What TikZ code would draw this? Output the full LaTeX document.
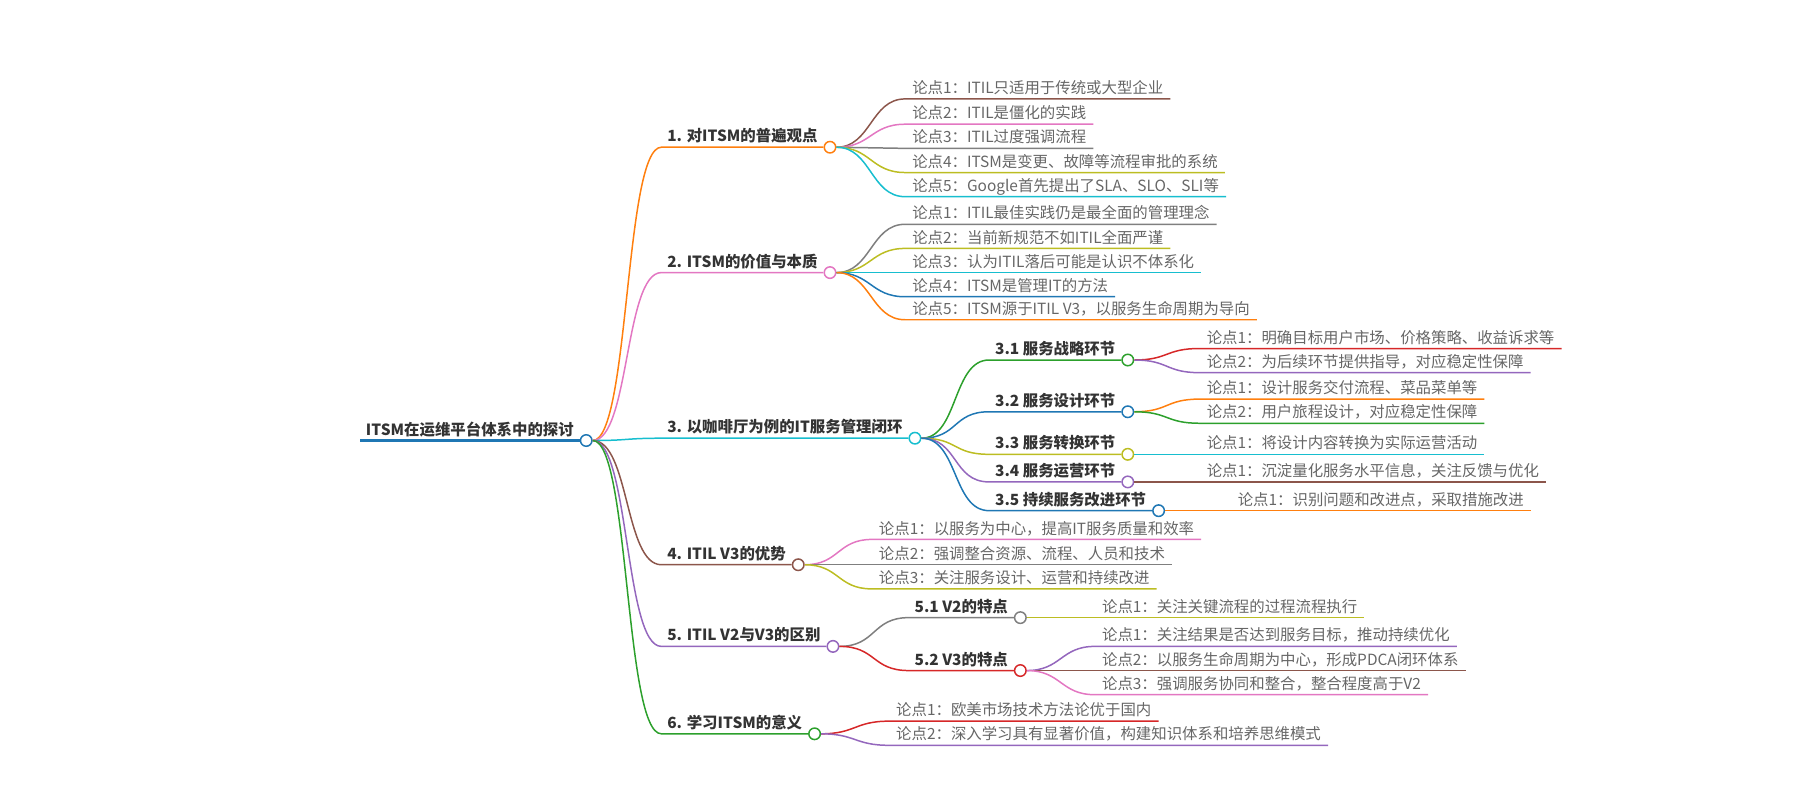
\documentclass[tikz,border=0pt]{standalone}
\usepackage{fontspec}
\setmainfont{Noto Sans CJK SC}
\usetikzlibrary{positioning}
\definecolor{cblue}{HTML}{1F77B4}
\definecolor{corange}{HTML}{FF7F0E}
\definecolor{cgreen}{HTML}{2CA02C}
\definecolor{cred}{HTML}{D62728}
\definecolor{cpurple}{HTML}{9467BD}
\definecolor{cbrown}{HTML}{8C564B}
\definecolor{cpink}{HTML}{E377C2}
\definecolor{cgray}{HTML}{7F7F7F}
\definecolor{colive}{HTML}{BCBD22}
\definecolor{ccyan}{HTML}{17BECF}
\definecolor{maintxt}{HTML}{333333}
\definecolor{leaftxt}{HTML}{666666}
\begin{document}
\begin{tikzpicture}[x=1pt, y=-1pt, font=\fontsize{13.4}{16}\selectfont,
main/.style={font=\fontsize{13.4}{16}\selectfont\bfseries, text=maintxt, anchor=south west, inner xsep=5pt, inner ysep=4.5pt, text depth=0pt},
leaf/.style={text=leaftxt, anchor=south west, inner xsep=6pt, inner ysep=4.5pt, text depth=0pt},
dot/.style={circle, draw=#1, fill=white, line width=1.3pt, minimum size=10pt, inner sep=0pt},
link/.style={draw=#1, line width=1.3pt}]
\useasboundingbox (0,0) rectangle (1565,696);

\node[main] (root) at (313,383) {ITSM在运维平台体系中的探讨};
\node[dot=cblue, right=0pt of root.south east] (rd) {};
\draw[link=cblue, line width=2.2pt] (root.south west) -- (rd);

\node[main] (b1) at (575,128) {1. 对ITSM的普遍观点};
\node[dot=corange, right=0pt of b1.south east] (d1) {};
\draw[link=corange] (rd.east) .. controls +(32,0) and +(-32,0) .. (b1.south west) -- (d1);
\node[leaf] (l11) at (787,86) {论点1：ITIL只适用于传统或大型企业};
\node[leaf] (l12) at (787,108) {论点2：ITIL是僵化的实践};
\node[leaf] (l13) at (787,129) {论点3：ITIL过度强调流程};
\node[leaf] (l14) at (787,150) {论点4：ITSM是变更、故障等流程审批的系统};
\node[leaf] (l15) at (787,171) {论点5：Google首先提出了SLA、SLO、SLI等};
\draw[link=cbrown] (d1.east) .. controls +(30,0) and +(-30,0) .. (l11.south west) -- (l11.south east);
\draw[link=cpink] (d1.east) .. controls +(30,0) and +(-30,0) .. (l12.south west) -- (l12.south east);
\draw[link=cgray] (d1.east) .. controls +(30,0) and +(-30,0) .. (l13.south west) -- (l13.south east);
\draw[link=colive] (d1.east) .. controls +(30,0) and +(-30,0) .. (l14.south west) -- (l14.south east);
\draw[link=ccyan] (d1.east) .. controls +(30,0) and +(-30,0) .. (l15.south west) -- (l15.south east);

\node[main] (b2) at (575,237) {2. ITSM的价值与本质};
\node[dot=cpink, right=0pt of b2.south east] (d2) {};
\draw[link=cpink] (rd.east) .. controls +(32,0) and +(-32,0) .. (b2.south west) -- (d2);
\node[leaf] (l21) at (787,195) {论点1：ITIL最佳实践仍是最全面的管理理念};
\node[leaf] (l22) at (787,216) {论点2：当前新规范不如ITIL全面严谨};
\node[leaf] (l23) at (787,237) {论点3：认为ITIL落后可能是认识不体系化};
\node[leaf] (l24) at (787,258) {论点4：ITSM是管理IT的方法};
\node[leaf] (l25) at (787,278) {论点5：ITSM源于ITIL V3，以服务生命周期为导向};
\draw[link=cgray] (d2.east) .. controls +(30,0) and +(-30,0) .. (l21.south west) -- (l21.south east);
\draw[link=colive] (d2.east) .. controls +(30,0) and +(-30,0) .. (l22.south west) -- (l22.south east);
\draw[link=ccyan] (d2.east) .. controls +(30,0) and +(-30,0) .. (l23.south west) -- (l23.south east);
\draw[link=cblue] (d2.east) .. controls +(30,0) and +(-30,0) .. (l24.south west) -- (l24.south east);
\draw[link=corange] (d2.east) .. controls +(30,0) and +(-30,0) .. (l25.south west) -- (l25.south east);

\node[main] (b3) at (575,381) {3. 以咖啡厅为例的IT服务管理闭环};
\node[dot=ccyan, right=0pt of b3.south east] (d3) {};
\draw[link=ccyan] (rd.east) .. controls +(32,0) and +(-32,0) .. (b3.south west) -- (d3);
\node[main] (s31) at (860,313) {3.1 服务战略环节};
\node[main] (s32) at (860,358) {3.2 服务设计环节};
\node[main] (s33) at (860,395) {3.3 服务转换环节};
\node[main] (s34) at (860,419) {3.4 服务运营环节};
\node[main] (s35) at (860,444) {3.5 持续服务改进环节};
\node[dot=cgreen, right=0pt of s31.south east] (e31) {};
\node[dot=cblue, right=0pt of s32.south east] (e32) {};
\node[dot=colive, right=0pt of s33.south east] (e33) {};
\node[dot=cpurple, right=0pt of s34.south east] (e34) {};
\node[dot=cblue, right=0pt of s35.south east] (e35) {};
\draw[link=cgreen] (d3.east) .. controls +(32,0) and +(-32,0) .. (s31.south west) -- (e31);
\draw[link=cblue] (d3.east) .. controls +(32,0) and +(-32,0) .. (s32.south west) -- (e32);
\draw[link=colive] (d3.east) .. controls +(32,0) and +(-32,0) .. (s33.south west) -- (e33);
\draw[link=cpurple] (d3.east) .. controls +(32,0) and +(-32,0) .. (s34.south west) -- (e34);
\draw[link=cblue] (d3.east) .. controls +(32,0) and +(-32,0) .. (s35.south west) -- (e35);
\node[leaf] (l311) at (1043,303) {论点1：明确目标用户市场、价格策略、收益诉求等};
\node[leaf] (l312) at (1043,324) {论点2：为后续环节提供指导，对应稳定性保障};
\node[leaf] (l321) at (1043,347) {论点1：设计服务交付流程、菜品菜单等};
\node[leaf] (l322) at (1043,368) {论点2：用户旅程设计，对应稳定性保障};
\node[leaf] (l331) at (1043,395) {论点1：将设计内容转换为实际运营活动};
\node[leaf] (l341) at (1043,419) {论点1：沉淀量化服务水平信息，关注反馈与优化};
\node[leaf] (l351) at (1070,444) {论点1：识别问题和改进点，采取措施改进};
\draw[link=cred] (e31.east) .. controls +(30,0) and +(-30,0) .. (l311.south west) -- (l311.south east);
\draw[link=cpurple] (e31.east) .. controls +(30,0) and +(-30,0) .. (l312.south west) -- (l312.south east);
\draw[link=corange] (e32.east) .. controls +(30,0) and +(-30,0) .. (l321.south west) -- (l321.south east);
\draw[link=cgreen] (e32.east) .. controls +(30,0) and +(-30,0) .. (l322.south west) -- (l322.south east);
\draw[link=ccyan] (e33.east) .. controls +(30,0) and +(-30,0) .. (l331.south west) -- (l331.south east);
\draw[link=cbrown] (e34.east) .. controls +(30,0) and +(-30,0) .. (l341.south west) -- (l341.south east);
\draw[link=corange] (e35.east) .. controls +(30,0) and +(-30,0) .. (l351.south west) -- (l351.south east);

\node[main] (b4) at (575,491) {4. ITIL V3的优势};
\node[dot=cbrown, right=0pt of b4.south east] (d4) {};
\draw[link=cbrown] (rd.east) .. controls +(32,0) and +(-32,0) .. (b4.south west) -- (d4);
\node[leaf] (l41) at (758,469) {论点1：以服务为中心，提高IT服务质量和效率};
\node[leaf] (l42) at (758,491) {论点2：强调整合资源、流程、人员和技术};
\node[leaf] (l43) at (758,512) {论点3：关注服务设计、运营和持续改进};
\draw[link=cpink] (d4.east) .. controls +(30,0) and +(-30,0) .. (l41.south west) -- (l41.south east);
\draw[link=cgray] (d4.east) .. controls +(30,0) and +(-30,0) .. (l42.south west) -- (l42.south east);
\draw[link=colive] (d4.east) .. controls +(30,0) and +(-30,0) .. (l43.south west) -- (l43.south east);

\node[main] (b5) at (575,562) {5. ITIL V2与V3的区别};
\node[dot=cpurple, right=0pt of b5.south east] (d5) {};
\draw[link=cpurple] (rd.east) .. controls +(32,0) and +(-32,0) .. (b5.south west) -- (d5);
\node[main] (s51) at (790,537) {5.1 V2的特点};
\node[main] (s52) at (790,583) {5.2 V3的特点};
\node[dot=cgray, right=0pt of s51.south east] (e51) {};
\node[dot=cred, right=0pt of s52.south east] (e52) {};
\draw[link=cgray] (d5.east) .. controls +(32,0) and +(-32,0) .. (s51.south west) -- (e51);
\draw[link=cred] (d5.east) .. controls +(32,0) and +(-32,0) .. (s52.south west) -- (e52);
\node[leaf] (l511) at (952,537) {论点1：关注关键流程的过程流程执行};
\node[leaf] (l521) at (952,562) {论点1：关注结果是否达到服务目标，推动持续优化};
\node[leaf] (l522) at (952,583) {论点2：以服务生命周期为中心，形成PDCA闭环体系};
\node[leaf] (l523) at (952,604) {论点3：强调服务协同和整合，整合程度高于V2};
\draw[link=colive] (e51.east) .. controls +(30,0) and +(-30,0) .. (l511.south west) -- (l511.south east);
\draw[link=cpurple] (e52.east) .. controls +(30,0) and +(-30,0) .. (l521.south west) -- (l521.south east);
\draw[link=cbrown] (e52.east) .. controls +(30,0) and +(-30,0) .. (l522.south west) -- (l522.south east);
\draw[link=cpink] (e52.east) .. controls +(30,0) and +(-30,0) .. (l523.south west) -- (l523.south east);

\node[main] (b6) at (575,638) {6. 学习ITSM的意义};
\node[dot=cgreen, right=0pt of b6.south east] (d6) {};
\draw[link=cgreen] (rd.east) .. controls +(32,0) and +(-32,0) .. (b6.south west) -- (d6);
\node[leaf] (l61) at (773,627) {论点1：欧美市场技术方法论优于国内};
\node[leaf] (l62) at (773,648) {论点2：深入学习具有显著价值，构建知识体系和培养思维模式};
\draw[link=cred] (d6.east) .. controls +(30,0) and +(-30,0) .. (l61.south west) -- (l61.south east);
\draw[link=cpurple] (d6.east) .. controls +(30,0) and +(-30,0) .. (l62.south west) -- (l62.south east);
\end{tikzpicture}
\end{document}
